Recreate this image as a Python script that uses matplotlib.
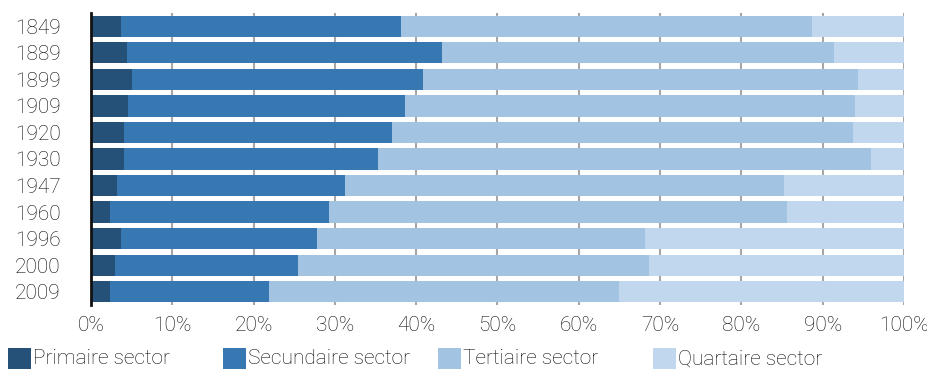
import numpy as np
import matplotlib.pyplot as plt
from matplotlib.patches import Rectangle

plt.rcParams['font.family'] = ['Roboto', 'DejaVu Sans']

# data (share of employment per sector, %)
years = ['1849', '1889', '1899', '1909', '1920', '1930', '1947', '1960', '1996', '2000', '2009']
primaire = [3.7, 4.4, 5.0, 4.6, 4.0, 4.0, 3.2, 2.3, 3.7, 3.0, 2.3]
secundaire = [34.4, 38.8, 35.8, 34.0, 33.0, 31.3, 28.1, 27.0, 24.1, 22.5, 19.6]
tertiaire = [50.6, 48.2, 53.5, 55.4, 56.7, 60.6, 53.9, 56.3, 40.3, 43.1, 43.0]
quartaire = [11.3, 8.6, 5.7, 6.0, 6.3, 4.1, 14.8, 14.4, 31.9, 31.4, 35.1]

labels = ['Primaire sector', 'Secundaire sector', 'Tertiaire sector', 'Quartaire sector']
colors = ['#255077', '#3778b3', '#a2c4e2', '#c0d7ed']
series = [primaire, secundaire, tertiaire, quartaire]

txt = '#0a0a0a'
fsize = 15

fig = plt.figure(figsize=(9.28, 3.69), dpi=100)
ax = fig.add_axes([91 / 928, 1 - 305 / 369, (904 - 91) / 928, (305 - 13) / 369])

pos = np.arange(len(years))
left = np.zeros(len(years))
for vals, col, lab in zip(series, colors, labels):
    vals = np.array(vals)
    ax.barh(pos, vals, left=left, height=0.8, color=col, linewidth=0, label=lab, zorder=2)
    left += vals

ax.set_xlim(0, 100)
ax.set_ylim(len(years) - 0.5, -0.5)
ax.set_yticks(pos, labels=years)
ax.set_xticks(np.arange(0, 101, 10), labels=[f'{v}%' for v in range(0, 101, 10)])
ax.grid(axis='x', color='#a6a6a6', linewidth=1.5, zorder=0)
ax.set_axisbelow(True)

for s in ['top', 'bottom', 'right']:
    ax.spines[s].set_visible(False)
ax.spines['left'].set_color('#111111')
ax.spines['left'].set_linewidth(2)
ax.spines['left'].set_zorder(3)

ax.tick_params(axis='both', length=0, labelsize=fsize, labelcolor=txt)
ax.tick_params(axis='y', pad=22)
ax.tick_params(axis='x', pad=8)
for t in ax.get_xticklabels() + ax.get_yticklabels():
    t.set_fontweight('light')

# legend along the bottom, equally spaced like the original
for i, (lab, col) in enumerate(zip(labels, colors)):
    x0 = (8 + i * 215) / 928
    fig.patches.append(Rectangle((x0, 0), 23 / 928, 21 / 369, transform=fig.transFigure,
                                 facecolor=col, edgecolor='none'))
    fig.text(x0 + 25 / 928, 10 / 369, lab, fontsize=fsize, color=txt, fontweight='light',
             va='center', ha='left')

fig.savefig('out.png', dpi=100)
